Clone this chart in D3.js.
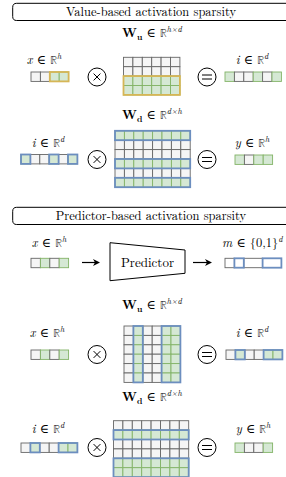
<!DOCTYPE html>
<html><head><meta charset="utf-8">
<script src="https://cdn.jsdelivr.net/npm/d3@7/dist/d3.min.js"></script>
<style>html,body{margin:0;padding:0;background:#fff;}svg{display:block;}</style>
</head><body>
<svg id="c" width="286" height="477"></svg>
<script>
// ---- data ----
const titles = ["Value-based activation sparsity", "Predictor-based activation sparsity"];
// Section 1 (value-based)
const x1 = [0,0,1,1];
const wu1Rows = [0,0,1,1];          // 4 rows x 6 cols, active rows
const wu1Cols = 6;
const i1 = [1,0,0,1,0,1];
const wd1Rows = [1,0,0,1,0,1];      // 6 rows x 8 cols
const wd1Cols = 8;
const y1 = [1,0,1,1];
// Section 2 (predictor-based)
const x2 = [0,1,0,1];
const m2 = [0,1,0,0,1,1];
const wu2Cols = [0,1,0,0,1,1];      // 6 rows x 6 cols, active cols
const wu2Rows = 6;
const i2 = [0,1,0,0,1,1];
const wd2Rows = [0,1,0,0,1,1];      // 6 rows x 8 cols
const wd2Cols = 8;
const y2 = [1,0,0,1];

// ---- style ----
const CELL = 9.4;
const C = {grayFill:"#f5f5f5", grayStroke:"#666666", greenFill:"#d5e8d4", greenStroke:"#82b366",
           blue:"#6c8ebf", orange:"#d6b656"};
const FONT = '"Latin Modern Roman","Liberation Serif","DejaVu Serif",serif';
const MATHR = '"Latin Modern Math","STIX Two Math","Noto Sans Math","DejaVu Serif",serif';
const svg = d3.select("#c");

function runs(vals){
  const r=[]; let s=null;
  vals.forEach((v,k)=>{ if(v&&s===null) s=k; if(!v&&s!==null){r.push([s,k]);s=null;} });
  if(s!==null) r.push([s,vals.length]);
  return r;
}

function vector(vals, x0, y0, hl){
  const n = vals.length;
  const sx = d3.scaleLinear().domain([0,n]).range([x0, x0+n*CELL]);
  const g = svg.append("g");
  g.selectAll("rect.c").data(vals).join("rect")
    .attr("x",(d,k)=>sx(k)).attr("y",y0).attr("width",CELL).attr("height",CELL)
    .attr("fill",d=>d?C.greenFill:C.grayFill).attr("stroke",d=>d?C.greenStroke:C.grayStroke)
    .attr("stroke-width",0.9);
  if(hl){
    g.selectAll("rect.h").data(runs(vals)).join("rect")
      .attr("x",d=>sx(d[0])).attr("y",y0).attr("width",d=>sx(d[1])-sx(d[0])).attr("height",CELL)
      .attr("fill","none").attr("stroke",hl).attr("stroke-width",1.8);
  }
}

function maskVector(vals, x0, y0){
  const n = vals.length;
  const sx = d3.scaleLinear().domain([0,n]).range([x0, x0+n*CELL]);
  const zeros = runs(vals.map(v=>v?0:1)), ones = runs(vals);
  const g = svg.append("g");
  g.selectAll("rect.z").data(zeros).join("rect")
    .attr("x",d=>sx(d[0])).attr("y",y0).attr("width",d=>sx(d[1])-sx(d[0])).attr("height",CELL)
    .attr("fill","#fff").attr("stroke",C.grayStroke).attr("stroke-width",0.9);
  g.selectAll("rect.o").data(ones).join("rect")
    .attr("x",d=>sx(d[0])).attr("y",y0).attr("width",d=>sx(d[1])-sx(d[0])).attr("height",CELL)
    .attr("fill","#fff").attr("stroke",C.blue).attr("stroke-width",1.8);
}

function matrix(active, other, orient, x0, y0, hl){
  const nr = orient==="row" ? active.length : other;
  const nc = orient==="row" ? other : active.length;
  const sx = d3.scaleLinear().domain([0,nc]).range([x0, x0+nc*CELL]);
  const sy = d3.scaleLinear().domain([0,nr]).range([y0, y0+nr*CELL]);
  const cells = [];
  for(let r=0;r<nr;r++) for(let c=0;c<nc;c++) cells.push({r,c,on: orient==="row"?active[r]:active[c]});
  const g = svg.append("g");
  cells.sort((a,b)=>a.on-b.on);
  g.selectAll("rect.c").data(cells).join("rect")
    .attr("x",d=>sx(d.c)).attr("y",d=>sy(d.r)).attr("width",CELL).attr("height",CELL)
    .attr("fill",d=>d.on?C.greenFill:C.grayFill).attr("stroke",d=>d.on?C.greenStroke:C.grayStroke)
    .attr("stroke-width",0.9);
  const rr = runs(active);
  g.selectAll("rect.h").data(rr).join("rect")
    .attr("x",d=>orient==="row"?sx(0):sx(d[0]))
    .attr("y",d=>orient==="row"?sy(d[0]):sy(0))
    .attr("width",d=>orient==="row"?sx(nc)-sx(0):sx(d[1])-sx(d[0]))
    .attr("height",d=>orient==="row"?sy(d[1])-sy(d[0]):sy(nr)-sy(0))
    .attr("fill","none").attr("stroke",hl).attr("stroke-width",1.8);
}

function opCircle(cx, cy, type){
  const g = svg.append("g").attr("stroke","#000").attr("fill","none").attr("stroke-width",1);
  g.append("circle").attr("cx",cx).attr("cy",cy).attr("r",9).attr("fill","#fff");
  if(type==="x"){
    g.append("line").attr("x1",cx-3.4).attr("y1",cy-3.4).attr("x2",cx+3.4).attr("y2",cy+3.4);
    g.append("line").attr("x1",cx-3.4).attr("y1",cy+3.4).attr("x2",cx+3.4).attr("y2",cy-3.4);
  } else {
    g.append("line").attr("x1",cx-5).attr("y1",cy-2).attr("x2",cx+5).attr("y2",cy-2);
    g.append("line").attr("x1",cx-5).attr("y1",cy+2).attr("x2",cx+5).attr("y2",cy+2);
  }
}

function label(x, y, v, sup, opts={}){
  const t = svg.append("text").attr("x",x).attr("y",y).style("font-family",FONT)
    .attr("font-size",12.5).attr("text-anchor",opts.anchor||"middle").attr("fill","#000");
  if(opts.bold){
    t.append("tspan").attr("font-weight","bold").text(v);
    t.append("tspan").attr("font-weight","bold").attr("font-size",8.5).attr("dy",2.5).text(opts.sub);
    t.append("tspan").attr("dy",-2.5).text(" \u2208 ");
  } else {
    t.append("tspan").attr("font-style","italic").text(v);
    t.append("tspan").text(" \u2208 ");
  }
  if(opts.set) t.append("tspan").text(opts.set);
  else t.append("tspan").style("font-family",MATHR).attr("font-size",10.5).text("\u211D");
  t.append("tspan").attr("font-style","italic").attr("font-size",8.5).attr("dy",-5).text(sup);
}

function header(y, text){
  svg.append("rect").attr("x",12.7).attr("y",y).attr("width",290).attr("height",17.2).attr("rx",4)
    .attr("fill","#fff").attr("stroke","#000").attr("stroke-width",1);
  svg.append("text").attr("x",151).attr("y",y+12.6).attr("text-anchor","middle").style("font-family",FONT)
    .attr("font-size",12.5).text(text);
}

function arrow(xa, xb, y){
  svg.append("line").attr("x1",xa).attr("y1",y).attr("x2",xb-5).attr("y2",y).attr("stroke","#000").attr("stroke-width",1.2);
  svg.append("path").attr("d",`M${xb},${y} L${xb-7},${y-3.5} L${xb-5},${y} L${xb-7},${y+3.5} Z`).attr("fill","#000");
}

// ---- Section 1 ----
header(3.3, titles[0]);
label(152, 37, "W", "h\u00D7d", {bold:true, sub:"u"});
label(44, 64, "x", "h");
vector(x1, 31, 72, C.orange);
opCircle(97, 77, "x");
matrix(wu1Rows, wu1Cols, "row", 123.5, 57.3, C.orange);
opCircle(207, 77, "=");
label(252, 64, "i", "d");
vector(i1, 225, 72, null);

label(152, 119, "W", "d\u00D7h", {bold:true, sub:"d"});
label(48, 147, "i", "d");
vector(i1, 21, 154.5, C.blue);
opCircle(97, 159.5, "x");
matrix(wd1Rows, wd1Cols, "row", 115, 130.8, C.blue);
opCircle(207, 159.5, "=");
label(252, 147, "y", "h");
vector(y1, 235, 155, null);

// ---- Section 2 ----
header(207.3, titles[1]);
label(49, 247, "x", "h");
vector(x2, 31, 258.3, null);
arrow(82, 100, 262.5);
svg.append("path").attr("d","M110,242.7 L185,250 L185,273.3 L110,280.7 Z").attr("fill","#fff").attr("stroke","#000").attr("stroke-width",1);
svg.append("text").attr("x",147.5).attr("y",266.5).attr("text-anchor","middle").style("font-family",FONT).attr("font-size",13).text("Predictor");
arrow(193, 212, 262.5);
label(222, 247, "m", "d", {anchor:"start", set:"{0,1}"});
maskVector(m2, 225, 258.3);

label(152, 309, "W", "h\u00D7d", {bold:true, sub:"u"});
label(47, 337, "x", "h");
vector(x2, 31, 350, null);
opCircle(97, 354.5, "x");
matrix(wu2Cols, wu2Rows, "col", 124, 326, C.blue);
opCircle(207, 354.5, "=");
label(252, 337, "i", "d");
vector(i2, 226, 350, C.blue);

label(152, 401, "W", "d\u00D7h", {bold:true, sub:"d"});
label(48, 433, "i", "d");
vector(i2, 21, 443, C.blue);
opCircle(97, 447.5, "x");
matrix(wd2Rows, wd2Cols, "row", 113.5, 420.7, C.blue);
opCircle(207, 447.5, "=");
label(253, 433, "y", "h");
vector(y2, 235, 443, null);
</script>
</body></html>
